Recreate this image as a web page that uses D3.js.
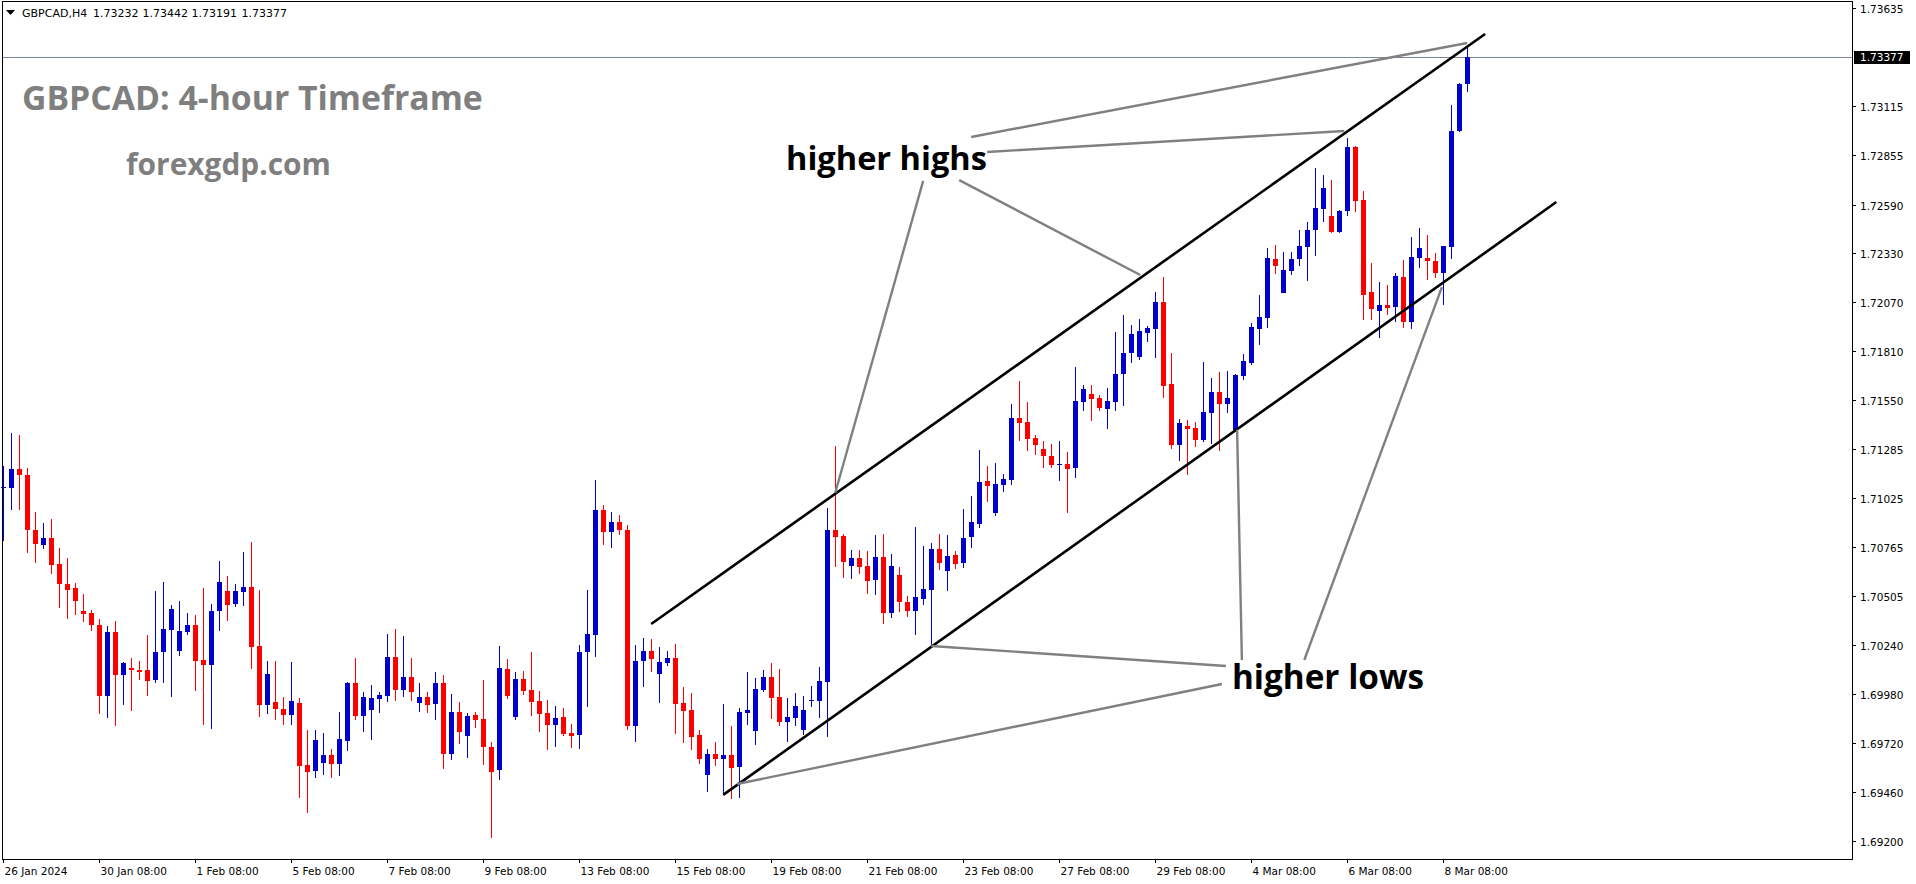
<!DOCTYPE html>
<html>
<head>
<meta charset="utf-8">
<script src="https://cdn.jsdelivr.net/npm/d3@7"></script>
<style>
html,body{margin:0;padding:0;background:#fff;}
svg{display:block;}
</style>
</head>
<body>
<svg id="chart" width="1916" height="884"></svg>
<script>
// ---------- DATA ----------
const opens = [1.71078,1.71080,1.71178,1.71148,1.70855,1.70776,1.70812,1.70673,1.70567,1.70545,1.70423,1.70412,1.70348,1.69970,1.70311,1.70082,1.70119,1.70108,1.70108,1.70055,
1.70205,1.70322,1.70210,1.70311,1.70349,1.70162,1.70137,1.70423,1.70530,1.70461,1.70525,1.70551,1.70237,1.69924,1.69938,1.69901,1.69869,1.69933,1.69602,1.69570,
1.69615,1.69656,1.69610,1.69732,1.70040,1.69865,1.69897,1.69954,1.69970,1.70178,1.70002,1.70072,1.69933,1.69965,1.69928,1.70040,1.69661,1.69885,1.69757,1.69869,
1.69848,1.69698,1.69576,1.70114,1.69858,1.70061,1.70002,1.69944,1.69880,1.69816,1.69858,1.69773,1.69762,1.70205,1.70295,1.70962,1.70844,1.70898,1.70855,1.69812,
1.70157,1.70210,1.70088,1.70146,1.70173,1.69933,1.69896,1.69763,1.69549,1.69661,1.69635,1.69656,1.69592,1.69880,1.69783,1.70002,1.70071,1.69964,1.69831,1.69853,
1.69789,1.69945,1.69943,1.70045,1.70855,1.70823,1.70663,1.70706,1.70663,1.70588,1.70711,1.70412,1.70615,1.70471,1.70425,1.70489,1.70537,1.70753,1.70638,1.70721,
1.70681,1.70819,1.70888,1.71116,1.70945,1.71095,1.71121,1.71452,1.71430,1.71345,1.71287,1.71249,1.71205,1.71207,1.71185,1.71537,1.71580,1.71558,1.71500,1.71537,
1.71686,1.71798,1.71777,1.71905,1.71926,1.72070,1.71633,1.71308,1.71409,1.71398,1.71335,1.71479,1.71591,1.71527,1.71388,1.71676,1.71745,1.71927,1.71985,1.72300,
1.72119,1.72236,1.72300,1.72364,1.72455,1.72566,1.72529,1.72444,1.72556,1.72897,1.72614,1.72124,1.72022,1.72054,1.72044,1.72204,1.71964,1.72305,1.72305,1.72289,
1.72225,1.72364,1.72982,1.73232];
const highs = [1.71196,1.71370,1.71361,1.71183,1.70949,1.70890,1.70913,1.70759,1.70705,1.70572,1.70513,1.70428,1.70380,1.70343,1.70370,1.70151,1.70172,1.70156,1.70295,1.70532,
1.70578,1.70455,1.70477,1.70413,1.70402,1.70546,1.70461,1.70690,1.70610,1.70567,1.70738,1.70791,1.70535,1.70157,1.70157,1.69965,1.70151,1.69960,1.69789,1.69789,
1.69773,1.69688,1.69885,1.70045,1.70173,1.69992,1.70029,1.69992,1.70301,1.70327,1.70290,1.70173,1.70040,1.69992,1.70098,1.70082,1.69981,1.69938,1.69880,1.69885,
1.70056,1.69725,1.70237,1.70167,1.70098,1.70104,1.70205,1.69997,1.69949,1.69917,1.69906,1.69821,1.70242,1.70535,1.71122,1.70989,1.70951,1.70935,1.70882,1.70242,
1.70280,1.70274,1.70232,1.70210,1.70248,1.70019,1.69987,1.69789,1.69688,1.69725,1.69928,1.69811,1.69907,1.70098,1.70066,1.70109,1.70146,1.70114,1.69959,1.69986,
1.69970,1.70023,1.70125,1.70972,1.71303,1.70834,1.70748,1.70748,1.70743,1.70828,1.70834,1.70727,1.70658,1.70503,1.70873,1.70769,1.70785,1.70833,1.70828,1.70743,
1.70967,1.71036,1.71281,1.71196,1.71212,1.71153,1.71526,1.71649,1.71537,1.71361,1.71329,1.71313,1.71329,1.71270,1.71724,1.71628,1.71628,1.71574,1.71612,1.71910,
1.72001,1.71947,1.71979,1.71942,1.72123,1.72203,1.71798,1.71446,1.71441,1.71430,1.71751,1.71666,1.71698,1.71703,1.71687,1.71794,1.71959,1.72108,1.72359,1.72375,
1.72337,1.72337,1.72455,1.72497,1.72785,1.72748,1.72721,1.72559,1.72944,1.72902,1.72662,1.72278,1.72177,1.72161,1.72225,1.72294,1.72417,1.72465,1.72427,1.72332,
1.72369,1.73120,1.73236,1.73442];
const lows = [1.70798,1.70961,1.70961,1.70734,1.70680,1.70755,1.70620,1.70441,1.70382,1.70403,1.70366,1.70318,1.69874,1.69852,1.69810,1.69922,1.69890,1.70055,1.69970,1.70039,
1.70039,1.69967,1.70185,1.70297,1.69997,1.69816,1.69794,1.70317,1.70370,1.70445,1.70450,1.70114,1.69858,1.69874,1.69842,1.69816,1.69816,1.69428,1.69348,1.69535,
1.69551,1.69535,1.69546,1.69679,1.69844,1.69780,1.69737,1.69881,1.69938,1.69944,1.69965,1.69944,1.69885,1.69880,1.69842,1.69581,1.69629,1.69714,1.69640,1.69800,
1.69603,1.69213,1.69523,1.69954,1.69842,1.69976,1.69864,1.69778,1.69682,1.69698,1.69757,1.69693,1.69688,1.69912,1.70178,1.70775,1.70759,1.70828,1.69791,1.69727,
1.70019,1.70098,1.69933,1.70130,1.69768,1.69720,1.69683,1.69608,1.69459,1.69597,1.69443,1.69421,1.69427,1.69816,1.69709,1.69991,1.69847,1.69810,1.69725,1.69810,
1.69762,1.69911,1.69853,1.69751,1.70658,1.70599,1.70594,1.70620,1.70514,1.70508,1.70354,1.70386,1.70418,1.70393,1.70297,1.70457,1.70233,1.70642,1.70531,1.70647,
1.70652,1.70761,1.70867,1.71004,1.70931,1.71057,1.71095,1.71329,1.71276,1.71255,1.71185,1.71185,1.71116,1.70945,1.71132,1.71489,1.71436,1.71489,1.71393,1.71489,
1.71516,1.71745,1.71761,1.71857,1.71772,1.71558,1.71286,1.71223,1.71148,1.71297,1.71324,1.71314,1.71276,1.71479,1.71379,1.71655,1.71735,1.71841,1.71932,1.72220,
1.72119,1.72215,1.72263,1.72183,1.72316,1.72497,1.72439,1.72440,1.72529,1.72550,1.71974,1.71974,1.71878,1.72001,1.71964,1.71932,1.71926,1.72252,1.72188,1.72198,
1.72054,1.72300,1.72978,1.73191];
const closes = [1.71082,1.71178,1.71148,1.70855,1.70782,1.70812,1.70670,1.70569,1.70537,1.70478,1.70409,1.70350,1.69970,1.70311,1.70082,1.70146,1.70108,1.70098,1.70050,1.70205,
1.70327,1.70434,1.70317,1.70349,1.70157,1.70137,1.70423,1.70578,1.70455,1.70530,1.70551,1.70233,1.69924,1.70087,1.69901,1.69869,1.69944,1.69599,1.69567,1.69736,
1.69656,1.69610,1.69741,1.70040,1.69865,1.69965,1.69960,1.69976,1.70178,1.70002,1.70072,1.69992,1.69965,1.69922,1.70040,1.69661,1.69885,1.69778,1.69864,1.69842,
1.69698,1.69565,1.70120,1.69970,1.70061,1.69997,1.69938,1.69874,1.69816,1.69853,1.69768,1.69757,1.70205,1.70301,1.70962,1.70844,1.70898,1.70855,1.69812,1.70157,
1.70210,1.70168,1.70152,1.70173,1.69928,1.69891,1.69752,1.69635,1.69661,1.69635,1.69656,1.69587,1.69885,1.69896,1.70007,1.70071,1.69959,1.69831,1.69858,1.69917,
1.69895,1.69949,1.70050,1.70855,1.70818,1.70684,1.70706,1.70658,1.70583,1.70711,1.70412,1.70663,1.70471,1.70425,1.70498,1.70541,1.70753,1.70681,1.70716,1.70673,
1.70812,1.70897,1.71111,1.71089,1.71100,1.71127,1.71452,1.71425,1.71340,1.71308,1.71249,1.71203,1.71208,1.71180,1.71542,1.71606,1.71553,1.71505,1.71542,1.71686,
1.71798,1.71899,1.71916,1.71931,1.72070,1.71622,1.71308,1.71425,1.71393,1.71334,1.71484,1.71591,1.71527,1.71559,1.71682,1.71756,1.71937,1.71991,1.72305,1.72263,
1.72241,1.72300,1.72369,1.72455,1.72572,1.72678,1.72444,1.72556,1.72897,1.72609,1.72108,1.72033,1.72054,1.72038,1.72209,1.71964,1.72310,1.72358,1.72289,1.72225,
1.72369,1.72982,1.73232,1.73377];

const priceTicks = [1.73635,1.73115,1.72855,1.72590,1.72330,1.72070,1.71810,1.71550,1.71285,1.71025,1.70765,1.70505,1.70240,1.69980,1.69720,1.69460,1.69200];
const currentPrice = 1.73377;
const dateTickIndex = [0,12,24,36,48,60,72,84,96,108,120,132,144,156,168,180];
const dateTickLabels = ["26 Jan 2024","30 Jan 08:00","1 Feb 08:00","5 Feb 08:00","7 Feb 08:00","9 Feb 08:00","13 Feb 08:00","15 Feb 08:00","19 Feb 08:00","21 Feb 08:00","23 Feb 08:00","27 Feb 08:00","29 Feb 08:00","4 Mar 08:00","6 Mar 08:00","8 Mar 08:00"];
const headerValues = ["1.73232","1.73442","1.73191","1.73377"];

// channel lines [barIndex, price]
const upperChannel = [[80.96,1.70354],[185.2,1.73499]];
const lowerChannel = [[89.96,1.69443],[194.1,1.72603]];
// annotation pointer lines [barIndex, price]
const highPointers = [
  [[120.96,1.72950],[182.96,1.73451]],
  [[122.96,1.72870],[167.6,1.72982]],
  [[119.46,1.72720],[142.1,1.72214]],
  [[114.96,1.72716],[103.96,1.71052]]
];
const lowPointers = [
  [[152.8,1.70130],[115.96,1.70237]],
  [[152.3,1.70034],[91.7,1.69501]],
  [[154.8,1.70162],[154.2,1.71390]],
  [[162.6,1.70162],[179.8,1.72150]]
];

// ---------- DRAW ----------
const svg = d3.select("#chart");
const W = 1916, H = 884;
const plotLeft = 2, plotRight = 1852, plotTop = 1, plotBottom = 859;

const x = d3.scaleLinear().domain([0, 183]).range([3.5, 3.5 + 8*183]);
const y = d3.scaleLinear().domain([1.69200, 1.73635]).range([840.5, 8.45]);

svg.append("rect").attr("width", W).attr("height", H).attr("fill", "#fff");

// current price line
svg.append("line")
  .attr("x1", plotLeft).attr("x2", plotRight)
  .attr("y1", Math.round(y(currentPrice)) + 0.5).attr("y2", Math.round(y(currentPrice)) + 0.5)
  .attr("stroke", "#7b8794").attr("stroke-width", 1);

const bars = d3.range(opens.length).map(i => ({i, o: opens[i], h: highs[i], l: lows[i], c: closes[i]}));
const BULL = "#0000cd", BEAR = "#ff0000";
const g = svg.append("g").attr("shape-rendering", "crispEdges");
g.selectAll("line.wick").data(bars).join("line")
  .attr("class", "wick")
  .attr("x1", d => Math.floor(x(d.i)) + 0.5).attr("x2", d => Math.floor(x(d.i)) + 0.5)
  .attr("y1", d => y(d.h)).attr("y2", d => y(d.l))
  .attr("stroke", d => d.c >= d.o ? BULL : BEAR).attr("stroke-width", 1);
g.selectAll("rect.body").data(bars).join("rect")
  .attr("class", "body")
  .attr("x", d => Math.floor(x(d.i)) - 2).attr("width", 5)
  .attr("y", d => y(Math.max(d.o, d.c)))
  .attr("height", d => Math.max(1, Math.abs(y(d.o) - y(d.c))))
  .attr("fill", d => d.c >= d.o ? BULL : BEAR);

// channel lines
const lineGen = d3.line().x(d => x(d[0])).y(d => y(d[1]));
[upperChannel, lowerChannel].forEach(seg => {
  svg.append("path").attr("d", lineGen(seg)).attr("stroke", "#000").attr("stroke-width", 2.6).attr("fill", "none");
});
// pointer lines
highPointers.concat(lowPointers).forEach(seg => {
  svg.append("path").attr("d", lineGen(seg)).attr("stroke", "#808080").attr("stroke-width", 2.4).attr("fill", "none");
});

// frame
svg.append("rect")
  .attr("x", plotLeft + 0.5).attr("y", plotTop + 0.5)
  .attr("width", plotRight - plotLeft).attr("height", plotBottom - plotTop)
  .attr("fill", "none").attr("stroke", "#000").attr("stroke-width", 1);

// price axis
const axisFont = "'DejaVu Sans', Verdana, sans-serif";
const ya = svg.append("g");
priceTicks.forEach(p => {
  const yy = Math.round(y(p)) + 0.5;
  ya.append("line").attr("x1", plotRight).attr("x2", plotRight + 4).attr("y1", yy).attr("y2", yy).attr("stroke", "#000");
  ya.append("text").attr("x", 1860).attr("y", yy + 4).attr("font-family", axisFont).attr("font-size", 10.5)
    .attr("fill", "#000").text(p.toFixed(5));
});
const cy = Math.round(y(currentPrice));
ya.append("rect").attr("x", 1854).attr("y", cy - 6).attr("width", 56).attr("height", 13).attr("fill", "#000");
ya.append("text").attr("x", 1860).attr("y", cy + 4).attr("font-family", axisFont).attr("font-size", 10.5)
  .attr("fill", "#fff").text(currentPrice.toFixed(5));

// date axis
const xa = svg.append("g");
dateTickIndex.forEach((idx, k) => {
  const xx = Math.floor(x(idx)) + 0.5;
  xa.append("line").attr("x1", xx).attr("x2", xx).attr("y1", plotBottom).attr("y2", plotBottom + 4).attr("stroke", "#000");
  xa.append("text").attr("x", xx + 1).attr("y", 875).attr("font-family", axisFont).attr("font-size", 10.5)
    .attr("fill", "#000").text(dateTickLabels[k]);
});

// header
svg.append("path").attr("d", "M6,10 L15,10 L10.5,15 Z").attr("fill", "#000");
svg.append("text").attr("x", 22).attr("y", 17).attr("font-family", axisFont).attr("font-size", 11)
  .attr("fill", "#000").text("GBPCAD,H4");
const hx = [93, 142.5, 191.5, 241.5];
headerValues.forEach((v, k) => {
  svg.append("text").attr("x", hx[k]).attr("y", 17).attr("font-family", axisFont).attr("font-size", 11)
    .attr("fill", "#000").text(v);
});

// annotations
const annFont = "'Open Sans', 'Noto Sans', sans-serif";
function fitText(txt, xx, yy, size, color, targetW) {
  const t = svg.append("text").attr("x", xx).attr("y", yy).attr("font-family", annFont)
    .attr("font-weight", 700).attr("font-size", size).attr("fill", color).text(txt);
  const w = t.node().getComputedTextLength();
  if (w > 0) t.attr("font-size", size * targetW / w);
  return t;
}
fitText("GBPCAD: 4-hour Timeframe", 22, 110, 33, "#7f7f7f", 461);
fitText("forexgdp.com", 126, 175, 28, "#7f7f7f", 205);
fitText("higher highs", 786, 170, 32, "#000", 201);
fitText("higher lows", 1232, 689, 32, "#000", 192);
</script>
</body>
</html>
